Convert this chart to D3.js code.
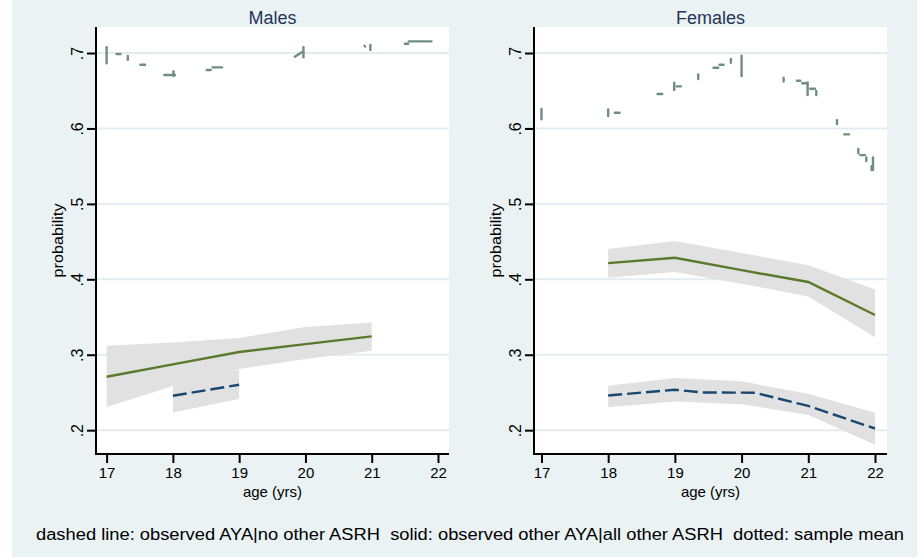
<!DOCTYPE html>
<html>
<head>
<meta charset="utf-8">
<script src="https://cdn.jsdelivr.net/npm/d3@7"></script>
<style>
  body { margin: 0; background: #fff; }
  text { font-family: "Liberation Sans", Arial, sans-serif; }
</style>
</head>
<body>
<svg width="923" height="558"></svg>
<script>
// Ejes
const ages = [17, 18, 19, 20, 21, 22];
const probTicks = [0.2, 0.3, 0.4, 0.5, 0.6, 0.7];
const probLabels = [".2", ".3", ".4", ".5", ".6", ".7"];
const panelTitles = ["Males", "Females"];

// Males: solid (other AYA) y dashed (AYA)
const maleSolidAge = [17, 18, 19, 20, 21];
const maleSolid = [0.2708, 0.2872, 0.3036, 0.3140, 0.3243];
const maleSolidHi = [0.3120, 0.3163, 0.3221, 0.3367, 0.3428];
const maleSolidLo = [0.2306, 0.2585, 0.2810, 0.2943, 0.3053];
const maleDashAge = [18, 19];
const maleDash = [0.2456, 0.2602];
const maleDashHi = [0.2680, 0.2801];
const maleDashLo = [0.2235, 0.2413];

// Females
const femSolidAge = [18, 19, 20, 21, 22];
const femSolid = [0.4214, 0.4286, 0.4121, 0.3964, 0.3527];
const femSolidHi = [0.4402, 0.4509, 0.4348, 0.4188, 0.3866];
const femSolidLo = [0.4022, 0.4098, 0.3942, 0.3772, 0.3232];
const femDashAge = [18, 19, 19.4, 20.2, 21, 22];
const femDash = [0.2460, 0.2536, 0.2500, 0.2496, 0.2321, 0.2022];
const femDashBandAge = [18, 19, 20, 21, 22];
const femDashHi = [0.2589, 0.2692, 0.2647, 0.2482, 0.2232];
const femDashLo = [0.2304, 0.2380, 0.2344, 0.2201, 0.1808];

// sample mean (dotted): trozos visibles [edad0, p0, edad1, p1]
const maleMean = [
  [17.00, 0.7076, 17.00, 0.6863], [17.15, 0.6987, 17.21, 0.6987],
  [17.32, 0.6960, 17.32, 0.6910], [17.51, 0.6845, 17.58, 0.6845],
  [17.87, 0.6708, 17.93, 0.6708], [17.95, 0.6708, 18.03, 0.6708],
  [18.01, 0.6757, 18.01, 0.6695], [18.51, 0.6775, 18.57, 0.6775],
  [18.60, 0.6810, 18.66, 0.6810], [18.68, 0.6810, 18.74, 0.6810],
  [19.84, 0.6951, 19.95, 0.7013], [19.97, 0.7076, 19.97, 0.6943],
  [20.89, 0.7095, 20.90, 0.7088], [20.98, 0.7106, 20.98, 0.7040],
  [21.50, 0.7123, 21.55, 0.7123], [21.56, 0.7155, 21.61, 0.7155],
  [21.63, 0.7155, 21.68, 0.7155], [21.70, 0.7155, 21.75, 0.7155],
  [21.77, 0.7155, 21.82, 0.7155], [21.84, 0.7155, 21.90, 0.7155]
];
const femMean = [
  [17.00, 0.6257, 17.00, 0.6121], [18.00, 0.6253, 18.00, 0.6164],
  [18.10, 0.6208, 18.17, 0.6208], [18.74, 0.6456, 18.81, 0.6456],
  [18.99, 0.6606, 18.99, 0.6509], [19.03, 0.6558, 19.09, 0.6558],
  [19.35, 0.6717, 19.35, 0.6655], [19.58, 0.6805, 19.65, 0.6805],
  [19.67, 0.6845, 19.73, 0.6845], [19.84, 0.6920, 19.84, 0.6870],
  [20.00, 0.6964, 20.00, 0.6695], [20.63, 0.6672, 20.63, 0.6624],
  [20.83, 0.6633, 20.88, 0.6633], [20.91, 0.6600, 20.98, 0.6600],
  [20.99, 0.6611, 20.99, 0.6443], [21.03, 0.6527, 21.10, 0.6527],
  [21.12, 0.6496, 21.12, 0.6443], [21.43, 0.6111, 21.43, 0.6058],
  [21.54, 0.5922, 21.61, 0.5922], [21.75, 0.5727, 21.75, 0.5670],
  [21.78, 0.5647, 21.85, 0.5647], [21.87, 0.5617, 21.87, 0.5568],
  [21.95, 0.5500, 21.95, 0.5448], [21.97, 0.5617, 21.97, 0.5448]
];

const note = "dashed line: observed AYA|no other ASRH  solid: observed other AYA|all other ASRH  dotted: sample mean";

const bg = "#eaf2f3";
const svg = d3.select("svg");

svg.append("rect")
  .attr("x", 12).attr("y", 0).attr("width", 905).attr("height", 557)
  .attr("fill", bg);

const panels = [
  {
    title: panelTitles[0], left: 96, right: 449, xDomain: [16.84, 22.166],
    solid: { age: maleSolidAge, v: maleSolid, hi: maleSolidHi, lo: maleSolidLo },
    dash: { age: maleDashAge, v: maleDash, bandAge: maleDashAge, hi: maleDashHi, lo: maleDashLo },
    mean: maleMean
  },
  {
    title: panelTitles[1], left: 534, right: 887, xDomain: [16.888, 22.18],
    solid: { age: femSolidAge, v: femSolid, hi: femSolidHi, lo: femSolidLo },
    dash: { age: femDashAge, v: femDash, bandAge: femDashBandAge, hi: femDashHi, lo: femDashLo },
    mean: femMean
  }
];

const plotTop = 27, plotBottom = 454;

panels.forEach(p => {
  const x = d3.scaleLinear().domain(p.xDomain).range([p.left, p.right]);
  const y = d3.scaleLinear().domain([0.1684, 0.7345]).range([plotBottom, plotTop]);
  const g = svg.append("g");

  // fondo del área de trazado
  g.append("rect")
    .attr("x", p.left).attr("y", plotTop)
    .attr("width", p.right - p.left).attr("height", plotBottom - plotTop)
    .attr("fill", "#fff");

  // rejilla
  g.append("g").selectAll("line")
    .data(probTicks)
    .join("line")
    .attr("x1", p.left).attr("x2", p.right)
    .attr("y1", d => y(d)).attr("y2", d => y(d))
    .attr("stroke", "#e3ecef").attr("stroke-width", 2);

  // bandas de confianza
  const band = (ages, hi, lo) => d3.area()
    .x((d, i) => x(ages[i]))
    .y0((d, i) => y(lo[i]))
    .y1((d, i) => y(hi[i]))(hi);

  g.append("path").attr("d", band(p.solid.age, p.solid.hi, p.solid.lo)).attr("fill", "#e1e1e1");
  g.append("path").attr("d", band(p.dash.bandAge, p.dash.hi, p.dash.lo)).attr("fill", "#e1e1e1");

  const line = (ages, v) => d3.line().x((d, i) => x(ages[i])).y(d => y(d))(v);

  g.append("path")
    .attr("d", line(p.solid.age, p.solid.v))
    .attr("fill", "none").attr("stroke", "#587a2c").attr("stroke-width", 2.4);

  g.append("path")
    .attr("d", line(p.dash.age, p.dash.v))
    .attr("fill", "none").attr("stroke", "#1a476f").attr("stroke-width", 2.4)
    .attr("stroke-dasharray", "14,5");

  // media muestral (punteada)
  g.append("g").selectAll("line")
    .data(p.mean)
    .join("line")
    .attr("x1", d => x(d[0])).attr("y1", d => y(d[1]))
    .attr("x2", d => x(d[2])).attr("y2", d => y(d[3]))
    .attr("stroke", "#6e8e84").attr("stroke-width", 2.4)
    .attr("stroke-linecap", "round");

  // eje Y
  const yAxis = g.append("g")
    .attr("transform", `translate(${p.left},0)`)
    .call(d3.axisLeft(y).tickValues(probTicks).tickSize(9).tickFormat((d, i) => probLabels[i]));
  yAxis.select(".domain").attr("d", `M0,${plotTop}V${plotBottom + 1}`).attr("stroke", "#000").attr("stroke-width", 2);
  yAxis.selectAll(".tick line").attr("stroke", "#000").attr("stroke-width", 2);
  yAxis.selectAll(".tick text")
    .attr("x", null).attr("dy", null)
    .attr("transform", "translate(-13,0) rotate(-90)")
    .attr("text-anchor", "middle")
    .attr("fill", "#000")
    .style("font-size", "16px");

  // eje X
  const xAxis = g.append("g")
    .attr("transform", `translate(0,${plotBottom})`)
    .call(d3.axisBottom(x).tickValues(ages).tickSize(9).tickFormat(d3.format("d")));
  xAxis.select(".domain").attr("d", `M${p.left - 1},0H${p.right}`).attr("stroke", "#000").attr("stroke-width", 2);
  xAxis.selectAll(".tick line").attr("stroke", "#000").attr("stroke-width", 2);
  xAxis.selectAll(".tick text")
    .attr("y", 24).attr("dy", null)
    .attr("fill", "#000")
    .style("font-size", "15px");

  const cx = (p.left + p.right) / 2;

  g.append("text")
    .attr("x", cx).attr("y", 497)
    .attr("text-anchor", "middle")
    .style("font-size", "15px")
    .text("age (yrs)");

  g.append("text")
    .attr("transform", `translate(${p.left - 33},${(plotTop + plotBottom) / 2}) rotate(-90)`)
    .attr("text-anchor", "middle")
    .style("font-size", "15px")
    .attr("textLength", 74).attr("lengthAdjust", "spacingAndGlyphs")
    .text("probability");

  g.append("text")
    .attr("x", cx).attr("y", 24)
    .attr("text-anchor", "middle")
    .attr("fill", "#26355a")
    .style("font-size", "18px")
    .text(p.title);
});

svg.append("text")
  .attr("x", 470).attr("y", 540)
  .attr("text-anchor", "middle")
  .attr("textLength", 868).attr("lengthAdjust", "spacingAndGlyphs")
  .style("font-size", "16px")
  .style("white-space", "pre")
  .text(note);
</script>
</body>
</html>
